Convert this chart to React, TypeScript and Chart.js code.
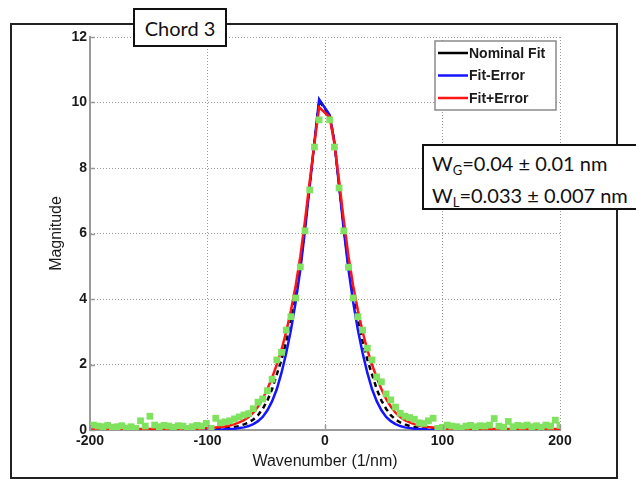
import React, { useEffect, useRef } from "react";
import { Chart, registerables } from "chart.js";

Chart.register(...registerables);

// Measured spectrum: wavenumber (1/nm) and magnitude
const dataX = [
  -197, -193, -189, -185, -181, -177, -173, -169, -165, -161, -157, -153, -149, -145, -141, -137, -133,
  -129, -125, -121, -117, -113, -109, -105, -101, -97, -93, -89, -85, -81, -77, -73, -69, -65, -61, -57,
  -53, -49, -45, -41, -37, -33, -29, -25, -21, -17, -13, -9, -5,
  4, 8, 12, 16, 20, 24, 28, 32, 36, 40, 44, 48, 52, 56, 60, 64, 68, 72, 76, 80, 84, 88, 92, 96, 100,
  104, 108, 112, 116, 120, 124, 128, 132, 136, 140, 144, 148, 152, 156, 160, 164, 168, 172, 176, 180,
  184, 188, 192, 196, 200,
];
const dataY = [
  0.15, 0.12, 0.1, 0.14, 0.08, 0.1, 0.13, 0.06, 0.1, 0.05, 0.28, 0.12, 0.42, 0.15, 0.1, 0.14, 0.12,
  0.08, 0.13, 0.12, 0.05, 0.1, 0.14, 0.12, 0.2, 0.05, 0.36, 0.22, 0.25, 0.28, 0.34, 0.4, 0.46, 0.5, 0.65, 0.85,
  0.95, 1.2, 1.55, 2.14, 2.37, 3.05, 3.46, 4.03, 4.98, 6.08, 7.33, 8.64, 9.47,
  9.47, 8.64, 7.39, 6.08, 4.97, 4.03, 3.46, 3.05, 2.5, 2.14, 1.62, 1.47, 1.1, 0.92, 0.7, 0.51, 0.42, 0.38, 0.33, 0.22, 0.2, 0.28, 0.36, 0.05, 0.08,
  0.15, 0.12, 0.1, 0.06, 0.12, 0.14, 0.1, 0.13, 0.12, 0.15, 0.35, 0.12, 0.08, 0.26, 0.1, 0.14, 0.12, 0.15, 0.1, 0.13,
  0.08, 0.15, 0.12, 0.3, 0.14,
];

// Wavenumbers at which the fitted profiles are evaluated
const fitX = [
  -200, -105, -101, -97, -93, -89, -85, -81, -77, -73, -69, -65, -61, -57, -53, -49, -45, -41, -37, -33,
  -29, -25, -21, -17, -13, -9, -5,
  4, 8, 12, 16, 20, 24, 28, 32, 36, 40, 44, 48, 52, 56, 60, 64, 68, 72, 76, 80, 84, 88, 92, 96, 100, 104, 200,
];
const nominalFit = [
  0, 0, 0.01, 0.02, 0.03, 0.04, 0.05, 0.07, 0.09, 0.12, 0.17, 0.23, 0.32, 0.45, 0.65, 0.9, 1.25, 1.7, 2.15, 2.7,
  3.35, 4.1, 5.0, 6.2, 7.5, 8.8, 10.05,
  9.6, 8.8, 7.5, 6.2, 5.0, 4.1, 3.35, 2.7, 2.15, 1.7, 1.25, 0.9, 0.65, 0.45, 0.32, 0.23, 0.17, 0.12, 0.09, 0.07, 0.05, 0.04, 0.03, 0.02, 0.01, 0, 0,
];
const fitMinusError = [
  0, 0, 0, 0, 0, 0.01, 0.02, 0.03, 0.04, 0.06, 0.08, 0.12, 0.18, 0.27, 0.4, 0.6, 0.88, 1.25, 1.75, 2.35,
  3.05, 3.9, 4.9, 6.1, 7.45, 8.8, 10.1,
  9.62, 8.8, 7.45, 6.1, 4.9, 3.9, 3.05, 2.35, 1.75, 1.25, 0.88, 0.6, 0.4, 0.27, 0.18, 0.12, 0.08, 0.06, 0.04, 0.03, 0.02, 0.01, 0, 0, 0, 0, 0,
];
const fitPlusError = [
  0.03, 0.04, 0.05, 0.06, 0.08, 0.09, 0.11, 0.14, 0.18, 0.23, 0.3, 0.4, 0.53, 0.72, 0.95, 1.25, 1.6, 2.0, 2.45, 3.0,
  3.65, 4.4, 5.3, 6.4, 7.6, 8.75, 9.85,
  9.55, 8.75, 7.6, 6.4, 5.3, 4.4, 3.65, 3.0, 2.45, 2.0, 1.6, 1.25, 0.95, 0.72, 0.53, 0.4, 0.3, 0.23, 0.18, 0.14, 0.11, 0.09, 0.08, 0.06, 0.05, 0.04, 0.03,
];

const xTicks = [-200, -100, 0, 100, 200];
const yTicks = [0, 2, 4, 6, 8, 10, 12];

const GREEN = "#80e25f";
const BLUE = "#1414ff";
const RED = "#ff1414";
const BLACK = "#000000";
const AXIS_GRAY = "#9a9a9a";

const toPoints = (xs: number[], ys: number[]) => xs.map((x, i) => ({ x, y: ys[i] }));

// Short inward tick marks along the left and bottom axes
const innerTicksPlugin = {
  id: "innerTicks",
  afterDraw(chart: any) {
    const { ctx, chartArea, scales } = chart;
    const len = 5;
    ctx.save();
    ctx.strokeStyle = AXIS_GRAY;
    ctx.lineWidth = 1.5;
    ctx.setLineDash([]);
    ctx.beginPath();
    yTicks.forEach((v) => {
      const y = Math.round(scales.y.getPixelForValue(v)) + 0.5;
      ctx.moveTo(chartArea.left, y);
      ctx.lineTo(chartArea.left + len, y);
    });
    xTicks.forEach((v) => {
      const x = Math.round(scales.x.getPixelForValue(v)) + 0.5;
      ctx.moveTo(x, chartArea.bottom);
      ctx.lineTo(x, chartArea.bottom - len);
    });
    ctx.stroke();
    ctx.restore();
  },
};

// In-plot legend box in the upper right corner of the axes
const legendBoxPlugin = {
  id: "legendBox",
  afterDatasetsDraw(chart: any) {
    const { ctx, chartArea } = chart;
    const lines = chart.data.datasets
      .filter((d: any) => d.showLine)
      .sort((a: any, b: any) => b.order - a.order);
    const w = 121;
    const h = 69;
    const left = chartArea.right - w - 4;
    const top = chartArea.top + 4;
    ctx.save();
    ctx.fillStyle = "#ffffff";
    ctx.fillRect(left, top, w, h);
    ctx.strokeStyle = "#8a8a8a";
    ctx.lineWidth = 1.5;
    ctx.strokeRect(left, top, w, h);
    ctx.font = "bold 14px 'Liberation Sans', Arial, sans-serif";
    ctx.textBaseline = "middle";
    ctx.textAlign = "left";
    lines.forEach((d: any, i: number) => {
      const y = top + 12 + i * 22.5;
      ctx.strokeStyle = d.borderColor;
      ctx.lineWidth = 2.5;
      ctx.setLineDash([]);
      ctx.beginPath();
      ctx.moveTo(left + 3, y);
      ctx.lineTo(left + 33, y);
      ctx.stroke();
      ctx.fillStyle = "#1a1a1a";
      ctx.fillText(d.label, left + 34, y + 1);
    });
    ctx.restore();
  },
};

export default function App() {
  const canvasRef = useRef<HTMLCanvasElement>(null);

  useEffect(() => {
    const prevMargin = document.body.style.margin;
    document.body.style.margin = "0";
    const tickFont = { family: "'Liberation Sans', Arial, sans-serif", size: 14, weight: "bold" as const };
    const titleFont = { family: "'Liberation Sans', Arial, sans-serif", size: 16 };
    const chart = new Chart(canvasRef.current!, {
      type: "scatter",
      data: {
        datasets: [
          {
            label: "Data",
            data: toPoints(dataX, dataY),
            showLine: false,
            pointStyle: "rect",
            pointRadius: 4.8,
            pointBackgroundColor: GREEN,
            pointBorderWidth: 0,
            order: 0,
          },
          {
            label: "Fit+Error",
            data: toPoints(fitX, fitPlusError),
            showLine: true,
            borderColor: RED,
            borderWidth: 2.5,
            pointRadius: 0,
            order: 1,
          },
          {
            label: "Fit-Error",
            data: toPoints(fitX, fitMinusError),
            showLine: true,
            borderColor: BLUE,
            borderWidth: 2.5,
            pointRadius: 0,
            order: 2,
          },
          {
            label: "Nominal Fit",
            data: toPoints(fitX, nominalFit),
            showLine: true,
            borderColor: BLACK,
            borderWidth: 2.5,
            borderDash: [5, 4],
            pointRadius: 0,
            order: 3,
          },
        ],
      },
      options: {
        responsive: false,
        animation: false,
        layout: { padding: { left: 0, right: 76, top: 37, bottom: 0 } },
        plugins: { legend: { display: false }, tooltip: { enabled: false } },
        scales: {
          x: {
            type: "linear",
            min: -200,
            max: 200,
            afterBuildTicks: (s: any) => {
              s.ticks = xTicks.map((v) => ({ value: v }));
            },
            afterFit: (s: any) => {
              s.height = 51;
            },
            ticks: { font: tickFont, color: "#1a1a1a", padding: 3 },
            grid: { color: AXIS_GRAY, lineWidth: 1, drawTicks: false },
            border: { color: AXIS_GRAY, width: 2, dash: [1, 2] },
            title: {
              display: true,
              text: "Wavenumber (1/nm)",
              font: titleFont,
              color: "#1a1a1a",
              padding: { top: 0, bottom: 10 },
            },
          },
          y: {
            type: "linear",
            min: 0,
            max: 12,
            afterBuildTicks: (s: any) => {
              s.ticks = yTicks.map((v) => ({ value: v }));
            },
            afterFit: (s: any) => {
              s.width = 90;
            },
            ticks: { font: tickFont, color: "#1a1a1a", padding: 3 },
            grid: { color: AXIS_GRAY, lineWidth: 1, drawTicks: false },
            border: { color: AXIS_GRAY, width: 2, dash: [1, 2] },
            title: {
              display: true,
              text: "Magnitude",
              font: titleFont,
              color: "#1a1a1a",
              padding: { top: 47, bottom: 0 },
            },
          },
        },
      },
      plugins: [legendBoxPlugin, innerTicksPlugin],
    } as any);
    return () => {
      chart.destroy();
      document.body.style.margin = prevMargin;
    };
  }, []);

  const boxFont = "Lato, 'Open Sans', sans-serif";

  return (
    <div
      style={{
        position: "relative",
        width: 636,
        height: 481,
        overflow: "hidden",
        background: "#ffffff",
      }}
    >
      <div
        style={{
          position: "absolute",
          left: 10,
          top: 23,
          width: 608,
          height: 456,
          border: "2px solid #222",
          boxSizing: "border-box",
        }}
      />
      <canvas
        ref={canvasRef}
        width={636}
        height={481}
        style={{ position: "absolute", left: 0, top: 0 }}
      />
      <div
        style={{
          position: "absolute",
          left: 133,
          top: 8,
          width: 94,
          height: 39,
          border: "2px solid #111",
          boxSizing: "border-box",
          background: "#ffffff",
          fontFamily: boxFont,
          fontSize: 20,
          color: "#111",
          display: "flex",
          alignItems: "center",
          justifyContent: "center",
        }}
      >
        Chord 3
      </div>
      <div
        style={{
          position: "absolute",
          left: 422,
          top: 144,
          width: 240,
          height: 66,
          border: "2px solid #111",
          boxSizing: "border-box",
          background: "#ffffff",
          fontFamily: boxFont,
          fontSize: 20,
          lineHeight: "25px",
          color: "#111",
          paddingLeft: 8,
          paddingTop: 5,
          whiteSpace: "nowrap",
        }}
      >
        <div>
          W<sub style={{ fontSize: 13, verticalAlign: -4 }}>G</sub>=0.04 ± 0.01 nm
        </div>
        <div>
          W<sub style={{ fontSize: 13, verticalAlign: -4 }}>L</sub>=0.033 ± 0.007 nm
        </div>
      </div>
    </div>
  );
}
